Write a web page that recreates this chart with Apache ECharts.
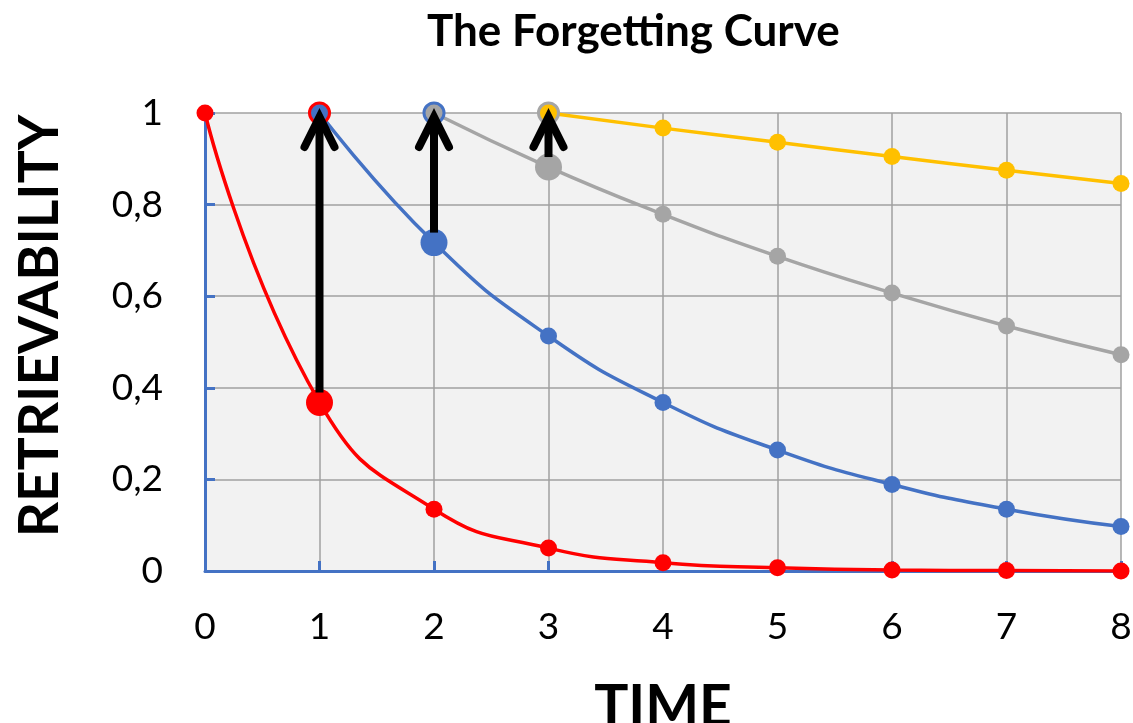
<!DOCTYPE html>
<html>
<head>
<meta charset="utf-8">
<script src="https://cdn.jsdelivr.net/npm/echarts@6/dist/echarts.min.js"></script>
<style>
  html, body { margin: 0; padding: 0; background: #fff; }
  #chart { width: 1133px; height: 723px; }
</style>
</head>
<body>
<div id="chart"></div>
<script>
// Retrievability after each review; every curve starts at 1 when reviewed.
const time = [0, 1, 2, 3, 4, 5, 6, 7, 8];
const firstCurve  = [1, 0.368, 0.135, 0.050, 0.018, 0.007, 0.002, 0.001, 0.000]; // t = 0..8
const secondCurve = [1, 0.717, 0.513, 0.368, 0.264, 0.189, 0.135, 0.097];        // t = 1..8
const thirdCurve  = [1, 0.882, 0.779, 0.687, 0.607, 0.535, 0.472];               // t = 2..8
const fourthCurve = [1, 0.967, 0.936, 0.905, 0.875, 0.846];                      // t = 3..8
const curveStart  = [0, 1, 2, 3];
const reviewTimes = [1, 2, 3];
const yTicks = [0, 0.2, 0.4, 0.6, 0.8, 1];

const RED = '#ff0000', BLUE = '#4472c4', GRAY = '#a5a5a5', YELLOW = '#ffc000';
const colors = [RED, BLUE, GRAY, YELLOW];
const curves = [firstCurve, secondCurve, thirdCurve, fourthCurve];

// Retrievability just before each review (where the arrow starts).
const beforeReview = reviewTimes.map((t, i) => curves[i][t - curveStart[i]]);

function buildSeries(idx) {
  const vals = curves[idx];
  const start = curveStart[idx];
  const data = vals.map((v, k) => {
    const x = time[start + k];
    const item = { value: [x, v] };
    if (k === 0 && idx > 0) {
      // fresh start: ring in the previous curve's colour
      item.symbolSize = 20;
      item.itemStyle = { color: colors[idx], borderColor: colors[idx - 1], borderWidth: 3 };
    } else if (reviewTimes[idx] === x) {
      item.symbolSize = 27;
    }
    return item;
  });
  return {
    type: 'line',
    data: data,
    smooth: 0.5,
    symbol: 'circle',
    symbolSize: 17,
    lineStyle: { color: colors[idx], width: 3.5 },
    itemStyle: { color: colors[idx] },
    z: 3 + idx
  };
}

const arrowData = reviewTimes.map((t, i) => [t, beforeReview[i], 1]);

const chart = echarts.init(document.getElementById('chart'), null, { renderer: 'canvas' });
chart.setOption({
  animation: false,
  backgroundColor: '#ffffff',
  title: {
    text: 'The Forgetting Curve',
    left: 422,
    top: 5,
    textStyle: { fontFamily: 'Lato', fontWeight: 'bold', fontSize: 44, color: '#000' }
  },
  graphic: [
    {
      type: 'text',
      x: 40, y: 326,
      rotation: Math.PI / 2,
      style: {
        text: 'RETRIEVABILITY',
        fontFamily: 'Lato', fontWeight: 'bold', fontSize: 55, fill: '#000',
        align: 'center', verticalAlign: 'middle'
      }
    }
  ],
  grid: {
    left: 205, right: 12, top: 113, bottom: 152,
    containLabel: false,
    outerBoundsMode: 'none',
    show: true, backgroundColor: '#f2f2f2', borderWidth: 0
  },
  xAxis: {
    type: 'value',
    min: time[0], max: time[time.length - 1], interval: 1,
    name: 'TIME',
    nameLocation: 'middle',
    nameGap: 108,
    nameTextStyle: { fontFamily: 'Lato', fontWeight: 'bold', fontSize: 57, color: '#000' },
    axisLine: { show: true, onZero: false, lineStyle: { color: BLUE, width: 3 } },
    axisTick: { show: true, inside: true, length: 10, lineStyle: { color: BLUE, width: 3 } },
    axisLabel: { margin: 38, fontFamily: 'Lato', fontSize: 37, color: '#000' },
    splitLine: { show: true, lineStyle: { color: '#a0a0a0', width: 1.5 } }
  },
  yAxis: {
    type: 'value',
    min: yTicks[0], max: yTicks[yTicks.length - 1], interval: 0.2,
    axisLine: { show: true, lineStyle: { color: BLUE, width: 3 } },
    axisTick: { show: true, inside: true, length: 10, lineStyle: { color: BLUE, width: 3 } },
    axisLabel: {
      margin: 42, fontFamily: 'Lato', fontSize: 37, color: '#000',
      formatter: v => String(Math.round(v * 10) / 10).replace('.', ',')
    },
    splitLine: { show: true, lineStyle: { color: '#a0a0a0', width: 1.5 } }
  },
  series: [
    buildSeries(0), buildSeries(1), buildSeries(2), buildSeries(3),
    {
      // review arrows: from retrievability before review up to 1
      type: 'custom',
      data: arrowData,
      z: 10,
      renderItem: function (params, api) {
        const x = api.value(0);
        const from = api.coord([x, api.value(1)]);
        const to = api.coord([x, api.value(2)]);
        const tipY = to[1] + 4;
        return {
          type: 'group',
          children: [
            {
              type: 'line',
              shape: { x1: from[0], y1: from[1] - 10, x2: to[0], y2: tipY + 6 },
              style: { stroke: '#000', lineWidth: 8 }
            },
            {
              type: 'polyline',
              shape: { points: [[to[0] - 15, tipY + 30], [to[0], tipY], [to[0] + 15, tipY + 30]] },
              style: { stroke: '#000', lineWidth: 8, lineCap: 'round', lineJoin: 'miter', fill: null }
            }
          ]
        };
      }
    }
  ]
});
</script>
</body>
</html>
